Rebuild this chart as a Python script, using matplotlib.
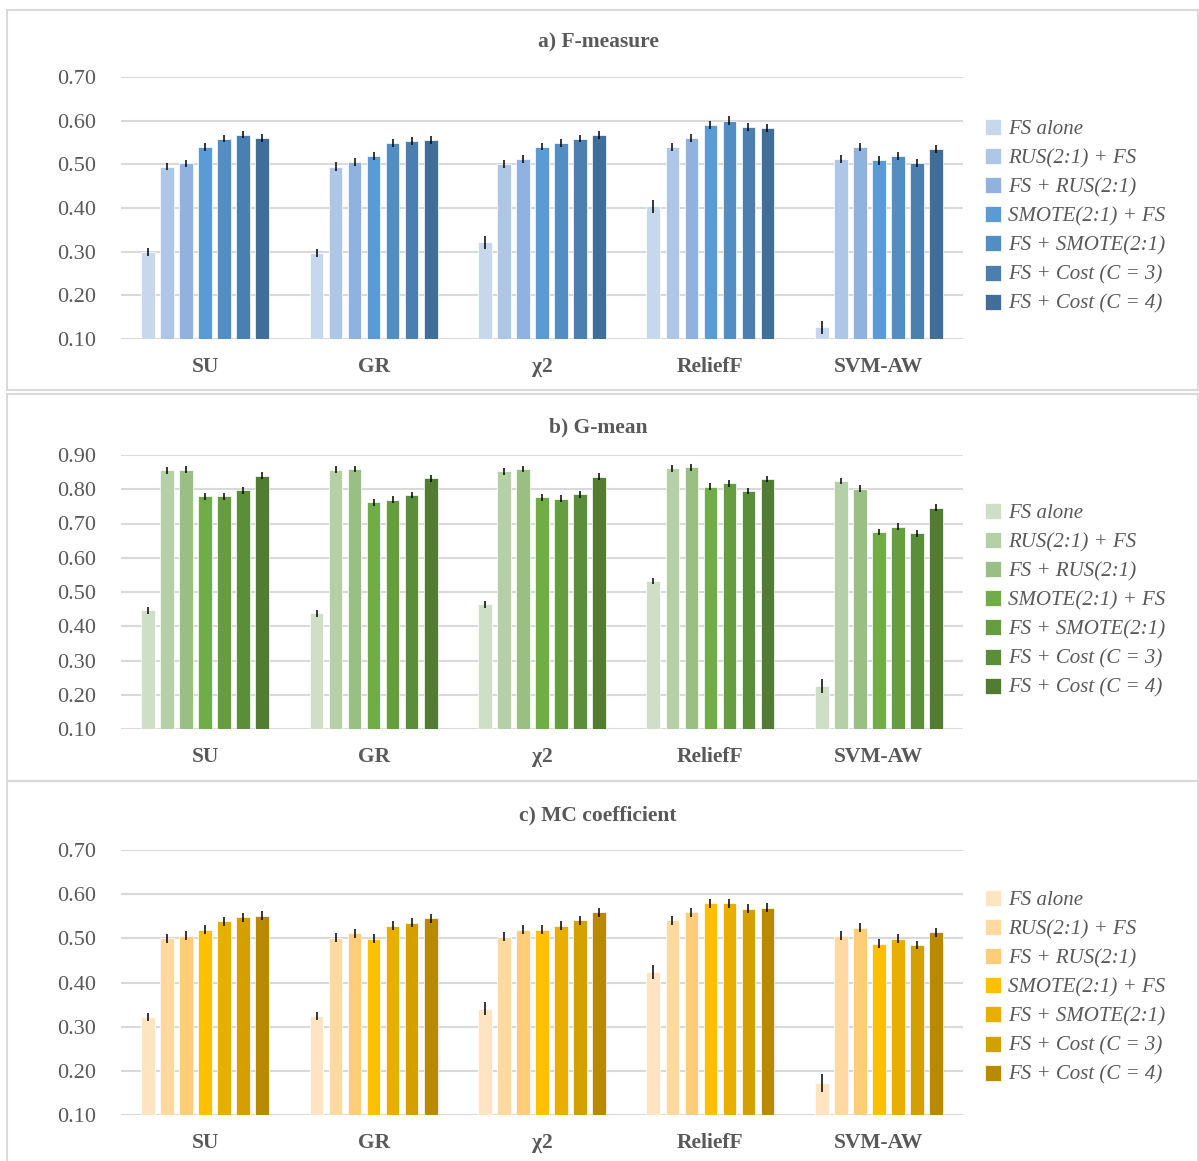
import matplotlib
matplotlib.use("Agg")
import matplotlib.pyplot as plt
from matplotlib.patches import Rectangle
import numpy as np

plt.rcParams['font.family'] = ['Liberation Serif', 'DejaVu Serif']

categories = ["SU", "GR", "χ2", "ReliefF", "SVM-AW"]
series = ["FS alone", "RUS(2:1) + FS", "FS + RUS(2:1)", "SMOTE(2:1) + FS",
          "FS + SMOTE(2:1)", "FS + Cost (C = 3)", "FS + Cost (C = 4)"]

# rows = categories, cols = series
fmeasure = [
    [0.299, 0.495, 0.502, 0.540, 0.559, 0.568, 0.561],
    [0.296, 0.495, 0.505, 0.519, 0.549, 0.554, 0.556],
    [0.321, 0.500, 0.513, 0.540, 0.549, 0.559, 0.568],
    [0.404, 0.540, 0.561, 0.590, 0.600, 0.586, 0.583],
    [0.127, 0.513, 0.540, 0.509, 0.519, 0.504, 0.535],
]
fmeasure_err = [
    [0.010, 0.009, 0.009, 0.009, 0.009, 0.008, 0.009],
    [0.009, 0.010, 0.009, 0.009, 0.009, 0.009, 0.010],
    [0.014, 0.009, 0.009, 0.008, 0.009, 0.009, 0.009],
    [0.015, 0.009, 0.009, 0.009, 0.010, 0.009, 0.009],
    [0.015, 0.009, 0.009, 0.010, 0.009, 0.009, 0.010],
]
gmean = [
    [0.446, 0.855, 0.857, 0.780, 0.780, 0.797, 0.840],
    [0.438, 0.857, 0.859, 0.762, 0.770, 0.783, 0.832],
    [0.464, 0.853, 0.859, 0.776, 0.772, 0.785, 0.836],
    [0.532, 0.861, 0.864, 0.808, 0.817, 0.795, 0.830],
    [0.226, 0.824, 0.802, 0.675, 0.691, 0.671, 0.746],
]
gmean_err = [
    [0.010, 0.010, 0.010, 0.010, 0.010, 0.010, 0.010],
    [0.010, 0.010, 0.010, 0.010, 0.010, 0.010, 0.010],
    [0.010, 0.010, 0.010, 0.010, 0.010, 0.010, 0.010],
    [0.010, 0.010, 0.010, 0.010, 0.010, 0.010, 0.010],
    [0.020, 0.010, 0.010, 0.010, 0.010, 0.010, 0.010],
]
mcc = [
    [0.322, 0.500, 0.506, 0.520, 0.539, 0.548, 0.551],
    [0.324, 0.501, 0.511, 0.499, 0.529, 0.535, 0.545],
    [0.341, 0.504, 0.520, 0.520, 0.529, 0.541, 0.559],
    [0.424, 0.541, 0.559, 0.579, 0.579, 0.567, 0.569],
    [0.172, 0.506, 0.524, 0.488, 0.499, 0.485, 0.514],
]
mcc_err = [
    [0.010, 0.010, 0.010, 0.010, 0.010, 0.010, 0.010],
    [0.010, 0.010, 0.010, 0.010, 0.010, 0.010, 0.010],
    [0.015, 0.010, 0.010, 0.010, 0.010, 0.010, 0.010],
    [0.015, 0.010, 0.010, 0.010, 0.010, 0.010, 0.010],
    [0.020, 0.010, 0.010, 0.010, 0.010, 0.010, 0.010],
]

blues = ["#C8D8EC", "#AFC7E6", "#8FB3DE", "#5B9BD5", "#528DC4", "#4A7FB0", "#416D99"]
greens = ["#CFDFC7", "#B5D0A6", "#9ABF85", "#70AD47", "#669E3F", "#5B8E39", "#517C32"]
yellows = ["#FFE4C2", "#FFD9A0", "#FFCC77", "#FFC000", "#E8AE00", "#D4A000", "#B98A00"]

W, H = 1199, 1161
fig = plt.figure(figsize=(W / 100, H / 100), dpi=100)
txt = "#595959"
grid_c = "#D9D9D9"

# panel frames (pixel coords, top-down)
for top, bot in [(9.5, 390), (393.5, 780.5), (781, 1165)]:
    fig.patches.append(Rectangle((7 / W, 1 - bot / H), (1198 - 7) / W, (bot - top) / H,
                                 transform=fig.transFigure, fill=False,
                                 edgecolor=grid_c, linewidth=1.5))

panels = [
    # title, data, err, colors, ylim top, y of ymin px, y of ymax px, title y, legend top y
    ("a) F-measure", fmeasure, fmeasure_err, blues, 0.70, 339, 77, 42, 126),
    ("b) G-mean", gmean, gmean_err, greens, 0.90, 729, 455, 427, 510),
    ("c) MC coefficient", mcc, mcc_err, yellows, 0.70, 1115, 850, 815, 897),
]

x = np.arange(len(categories))
pitch = 0.113
bw = 0.081

for title, data, err, cols, ymax, ypx0, ypx1, ty, ly in panels:
    ax = fig.add_axes([121 / W, 1 - ypx0 / H, (963 - 121) / W, (ypx0 - ypx1) / H])
    data = np.array(data)
    err = np.array(err)
    handles = []
    for j in range(len(series)):
        off = (j - 3) * pitch
        b = ax.bar(x + off, data[:, j], bw, bottom=0, color=cols[j],
                   edgecolor="white", linewidth=0.5, zorder=3, label=series[j])
        ax.errorbar(x + off, data[:, j], yerr=err[:, j], fmt="none",
                    ecolor="black", elinewidth=1.1, capsize=0, zorder=4)
        handles.append(b)
    ax.set_xlim(-0.5, len(categories) - 0.5)
    ax.set_ylim(0.10, ymax)
    ax.set_yticks(np.arange(0.10, ymax + 0.001, 0.10))
    ax.yaxis.set_major_formatter(plt.FormatStrFormatter("%.2f"))
    ax.grid(axis="y", color=grid_c, linewidth=1.5, zorder=0)
    ax.set_axisbelow(True)
    for s in ax.spines.values():
        s.set_visible(False)
    ax.tick_params(axis="y", length=0, labelsize=16, colors=txt, pad=18)
    ax.tick_params(axis="x", length=0, labelsize=15, colors=txt, pad=13)
    ax.set_xticks(x)
    ax.set_xticklabels(categories, fontweight="bold", fontsize=15.5)
    fig.text(598 / W, 1 - ty / H, title, ha="center", va="center",
             fontsize=15.5, fontweight="bold", color=txt)
    leg = fig.legend(handles=handles, loc="upper left",
                     bbox_to_anchor=(966 / W, 1 - (ly - 26) / H),
                     frameon=False, handlelength=0.8, handleheight=0.8,
                     handletextpad=0.3, labelspacing=0.43,
                     prop={"style": "italic", "size": 15})
    for t in leg.get_texts():
        t.set_color(txt)

fig.savefig("out.png", dpi=100)
